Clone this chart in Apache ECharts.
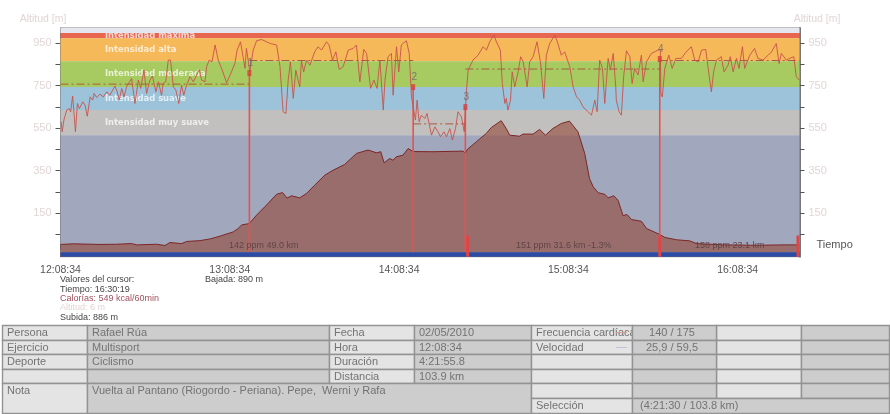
<!DOCTYPE html>
<html><head><meta charset="utf-8">
<style>html,body{margin:0;padding:0;background:#fff}#c{width:890px;height:414px}</style>
<script src="https://cdn.jsdelivr.net/npm/echarts@6/dist/echarts.min.js"></script>
</head><body><div id="c"></div>
<script>
const timeLabels = {0:'12:08:34',60:'13:08:34',120:'14:08:34',180:'15:08:34',240:'16:08:34'};
const durationMin = 261.93;
const zoneNames = ['Intensidad máxima','Intensidad alta','Intensidad moderada','Intensidad suave','Intensidad muy suave',''];
const zoneTop = [997,973,865,743,635,517];
const zoneBottom = [973,865,743,635,517,-34];
const zoneColors = ['#e8664f','#f6b959','#a7cb60','#9cc3d9','#c1c0bf','#a1a7bc'];

const hrMinutes = [0.2,0.6,1.2,2.2,3.1,3.6,4.3,4.8,5.3,6,6.7,7.9,8.7,9.5,10.5,11.4,11.9,12.8,14,15.2,16.4,17.5,19.3,20.1,20.8,21.7,22.5,23.4,25.2,26.4,27.6,28.4,29.6,30.5,31.7,32.6,33.8,34.7,35.8,36.4,37.3,38.2,39,40,40.9,41.9,42.9,43.7,44.7,45.9,47.1,49.2,50,51.2,51.8,52.7,53.7,54.8,55.9,57.1,58.9,60.6,61.8,62.6,63.8,65.4,65.9,67.1,68.3,69.5,71.3,73,74.4,76.6,77.8,78.9,79.9,80.7,81.5,82.5,83.4,84.2,
84.8,85.4,86.2,87.2,88.4,90.1,91.3,92.5,94.3,95.2,96.4,97.6,98.8,100.2,102,103.7,104.9,106.1,107.5,108.5,109.9,111.1,112.2,113.2,114.4,115,116.1,117.3,117.9,119.1,119.9,120.8,122.6,123.6,124.4,125.8,126.4,127.1,127.9,129.1,129.9,131.5,132.7,133.8,134.7,135.9,136.8,138,138.9,140,140.9,142.1,143.1,143.5,143.9,144.5,146.2,148,149.8,151,152.1,153.6,154.5,155.9,156.6,157.5,158,158.6,159.5,160.1,161,162.2,163.1,164,165.4,166.3,167.5,168.9,169.5,170.1,171.3,172.2,173.4,175.2,176.3,177.5,178.7,180.5,181.7,182.9,184,185.2,187,188.2,189.4,190.2,191.1,192.1,192.9,194.1,194.9,195.9,196.8,197,198,198.8,199.6,200.6,201.8,202.6,203.5,204.7,205.9,206.5,207.7,209.4,211.8,212.6,212.8,213.3,214.2,215.6,216.8,218.1,220.1,221.3,222.4,223.6,224.8,226,227.2,228.7,229.8,230.7,231.5,232.5,234.2,235.2,236.6,237.4,238.4,239.6,240.5,241.7,242.5,244.3,246,247.2,249,250.8,252,253.7,254.7,255.5,257.3,258.4,259.9,260.8,261.8];
const hrValues = [580,533,588,635,642,627,701,619,533,666,642,674,658,606,697,682,713,694,710,697,721,705,748,721,682,737,697,744,784,666,776,737,823,713,776,795,721,768,705,760,768,870,870,744,729,666,752,705,752,792,768,826,776,768,839,870,862,941,870,831,763,815,854,917,956,831,925,815,917,961,967,956,948,941,839,627,619,776,862,690,823,776,
744,867,815,870,846,909,933,917,956,941,870,909,826,839,917,925,941,768,920,901,737,776,737,870,635,776,886,901,705,933,815,941,961,901,697,588,682,580,611,595,619,517,556,533,509,533,509,548,494,548,627,603,533,635,729,823,870,893,933,917,956,988,956,917,760,666,690,635,682,815,744,815,886,862,744,862,886,956,909,862,690,893,948,988,948,893,909,839,744,697,682,650,627,611,682,627,870,831,666,878,823,901,744,682,627,611,792,914,886,760,831,800,893,768,862,901,917,920,713,697,831,893,831,878,878,901,917,933,870,862,917,920,807,721,815,870,886,815,846,886,815,878,831,933,831,893,925,878,870,893,909,948,854,901,870,878,886,792,776];

const elevMinutes = [0,4.5,14,19.9,25.2,27,34.1,37,38.8,42.9,44.7,49.4,53,56.5,61.2,63,64.2,66.9,69.5,73,76.6,78.7,80.3,81.9,84.8,87.2,90.1,93.7,96.6,100.7,104.9,109,112,113.5,114.7,116.7,117.9,119,121.4,123.2,125,132,142.7,143.5,144.2,147.4,150.9,152.7,156.2,158,159.2,162.7,163.9,167.5,169.8,171.9,174.5,177.5,180.4,183.4,185.8,187.5,188.8,190.6,192.9,194.1,196.1,197.6,199.4,200.8,202.4,205.9,207.7,212.4,214.2,218.3,223,225.4,234.8,246.6,256.1,261.9];
const elevValues = [3,6,3,4,7,1,4,-2,12,7,17,21,29,42,62,78,95,101,141,188,239,247,221,232,222,243,282,329,352,379,431,447,434,439,387,407,399,415,423,454,440,439,442,431,450,486,525,553,585,548,517,512,522,522,544,517,548,572,583,533,431,313,274,246,239,222,232,211,138,144,120,112,78,50,36,25,20,7,1,-1,1,1];

const lapMinutes = [66.95,125,143.5,212.4];
const lapMarks = [809,743,649,875];
const lapNames = ['1','2','3','4'];
const lapEnds = [0,66.95,125,143.5,212.4,261.93];
const lapAverages = [757,868,570,828,868];
const thickMinutes = [144.3,212.4,261.4];
const bandBase = -34;
const axisFloor = -54.6;
const thickTop = 45;
const lapTexts = ['142 ppm 49.0 km','151 ppm 31.6 km -1.3%','158 ppm 23.1 km'];
const lapTextX = [229,516,695];
const cursorLines = ['Valores del cursor:','Tiempo: 16:30:19','Calorías: 549 kcal/60min','Altitud: 6 m','Subida: 886 m'];
const cursorColors = ['#444','#444','#a0505e','#e6d4d4','#444'];

const tableCols = [2,87,329,414,531,632,716,801,889];
const tableRows = [325,340,354,369,383,398,413];
const tableText = [
 ['Persona','Rafael Rúa','Fecha','02/05/2010','Frecuencia cardíaca','140 / 175','',''],
 ['Ejercicio','Multisport','Hora','12:08:34','Velocidad','25,9 / 59,5','',''],
 ['Deporte','Ciclismo','Duración','4:21:55.8','','','',''],
 ['','','Distancia','103.9 km','','','',''],
 ['Nota','Vuelta al Pantano (Riogordo - Periana). Pepe,  Werni y Rafa','','','','','',''],
 ['','','','','Selección','(4:21:30 / 103.8 km)','','']
];

const chart = echarts.init(document.getElementById('c'), null, {renderer:'canvas'});
const fontA = 'Liberation Sans, Arial, sans-serif';
const grey = '#777';
const pale = '#e2d6d6';

const g = [];
const light='#e4e4e4', dark='#cdcdcd', border='#939393';
for(let r=0;r<6;r++){
  for(let c=0;c<8;c++){
    let x0=tableCols[c],x1=tableCols[c+1],y0=tableRows[r],y1=tableRows[r+1];
    let fill=c%2===0?light:dark;
    if(r>=4&&c>=1&&c<=3){ if(c>1)continue; x1=tableCols[4]; }
    if(r>=4&&c<=1){ if(r===5)continue; y1=tableRows[6]; if(c===1){fill=dark;} }
    if(r===5&&c>=5){ if(c>5)continue; x1=tableCols[8]; fill=dark; }
    g.push({type:'rect',z:c===5?30:10,silent:true,shape:{x:x0+.5,y:y0+.5,width:x1-x0,height:y1-y0},
      style:{fill:fill,stroke:border,lineWidth:1.4}});
    const t=tableText[r][c];
    if(t){
      const center=(c===5&&r<2);
      const tx=center?672:(c===5?640:x0+5);
      g.push({type:'text',z:c===5?40:20,silent:true,style:{text:t,x:tx,y:y0+7.5,fill:'#737373',font:'11px '+fontA,
        textAlign:center?'center':'left',textVerticalAlign:'middle'}});
    }
  }
}
g.push({type:'rect',z:41,silent:true,shape:{x:616,y:332,width:11,height:1},style:{fill:'#d99a9a'}});
g.push({type:'rect',z:41,silent:true,shape:{x:616,y:347,width:11,height:1},style:{fill:'#bcc6d6'}});
cursorLines.forEach((t,i)=>g.push({type:'text',silent:true,z:20,style:{text:t,x:60,y:280+i*9.3,fill:cursorColors[i],font:'9px '+fontA,textVerticalAlign:'middle'}}));
g.push({type:'text',silent:true,z:20,style:{text:'Bajada: 890 m',x:205,y:280,fill:'#444',font:'9px '+fontA,textVerticalAlign:'middle'}});
lapTexts.forEach((t,i)=>g.push({type:'text',silent:true,z:20,style:{text:t,x:lapTextX[i],y:245.5,fill:'#5f4546',font:'9px '+fontA,textVerticalAlign:'middle'}}));

chart.setOption({
  animation:false,
  backgroundColor:'#fff',
  grid:{left:60.5,right:90.5,top:28,bottom:157.3,show:true,backgroundColor:'#e4e7ef',borderColor:'#808080',borderWidth:1},
  xAxis:{type:'value',min:0,max:durationMin,interval:10,name:'Tiempo',nameLocation:'end',nameGap:17,
    nameTextStyle:{color:'#555',fontFamily:fontA,fontSize:11,padding:[26,0,0,0]},
    axisLine:{show:false},splitLine:{show:false},
    axisTick:{show:true,length:5,lineStyle:{color:'#222'}},
    axisLabel:{color:'#555',fontFamily:fontA,fontSize:10.5,margin:8,hideOverlap:false,showMaxLabel:false,
      formatter:v=>timeLabels[v]||''}},
  yAxis:[0,1].map(i=>({type:'value',min:axisFloor,max:1021,position:i?'right':'left',name:'Altitud [m]',nameLocation:'end',nameGap:3,
    nameTextStyle:{color:pale,fontFamily:fontA,fontSize:10.5,padding:i?[0,0,0,35]:[0,35,0,0]},
    axisLine:{show:true,lineStyle:{color:grey,width:i?2:1}},splitLine:{show:false},
    axisTick:{show:true,length:5,lineStyle:{color:'#555'},customValues:[50,150,250,350,450,550,650,750,850,950]},
    axisLabel:{color:pale,fontFamily:fontA,fontSize:11,margin:9,customValues:[150,350,550,750,950]}})),
  series:[
    {name:'Zonas',type:'line',data:[],z:1,silent:true,
      markArea:{silent:true,z:1,data:zoneNames.map((n,i)=>[
        {yAxis:zoneTop[i],xAxis:0,name:n,itemStyle:{color:zoneColors[i],opacity:1},
          label:{show:!!n,position:[44.5,'50%'],verticalAlign:'middle',align:'left',color:'rgba(255,255,255,0.72)',
            fontFamily:'DejaVu Sans',fontWeight:'bold',fontSize:8.4}},
        {yAxis:zoneBottom[i],xAxis:durationMin}])}},
    {name:'Altitud',type:'line',z:2,symbol:'none',silent:true,data:elevMinutes.map((m,i)=>[m,elevValues[i]]),
      lineStyle:{color:'#7c2626',width:1},areaStyle:{origin:'start',color:'rgba(148,70,55,0.6)',opacity:1}},
    {name:'Vueltas',type:'line',z:3,silent:true,symbol:'none',connectNulls:false,
      lineStyle:{color:'#e8524e',width:1.6,opacity:1},
      data:lapMinutes.flatMap((m,i)=>[[m,lapMarks[i]],[m,bandBase],[m,'-']])},
    {name:'Promedios',type:'line',z:3,silent:true,symbol:'none',connectNulls:false,
      lineStyle:{color:'#a85a3c',width:1,type:[8,3,2,3],opacity:1},
      data:lapAverages.flatMap((v,i)=>[[lapEnds[i],v],[lapEnds[i+1],v],[lapEnds[i+1],'-']])},
    {name:'Frecuencia cardíaca',type:'line',z:4,symbol:'none',silent:true,data:hrMinutes.map((m,i)=>[m,hrValues[i]]),
      lineStyle:{color:'#c8524c',width:1,opacity:0.9}},
    {name:'Base',type:'line',data:[],z:5,silent:true,
      markArea:{silent:true,z:5,data:[
        [{yAxis:bandBase,xAxis:0,itemStyle:{color:'#2a4ca6',opacity:1}},{yAxis:axisFloor,xAxis:durationMin}],
        [{yAxis:1021,xAxis:0,itemStyle:{color:'#e4e7ef',opacity:1}},{yAxis:997,xAxis:durationMin}]]}},
    {name:'Fin de vuelta',type:'line',z:6,silent:true,symbol:'none',connectNulls:false,
      lineStyle:{color:'#e04545',width:3,opacity:1},
      data:thickMinutes.flatMap(m=>[[m,thickTop],[m,axisFloor],[m,'-']])},
    {name:'Marcas',type:'scatter',z:7,silent:true,symbol:'rect',symbolSize:[4,6],
      itemStyle:{color:'#d93c3c'},data:lapMinutes.map((m,i)=>[m,lapMarks[i]]),
      label:{show:true,position:'top',distance:2,offset:[1,0],color:'#666',fontFamily:fontA,fontSize:10,
        formatter:p=>lapNames[p.dataIndex]}}
  ],
  graphic:g
});
</script></body></html>
